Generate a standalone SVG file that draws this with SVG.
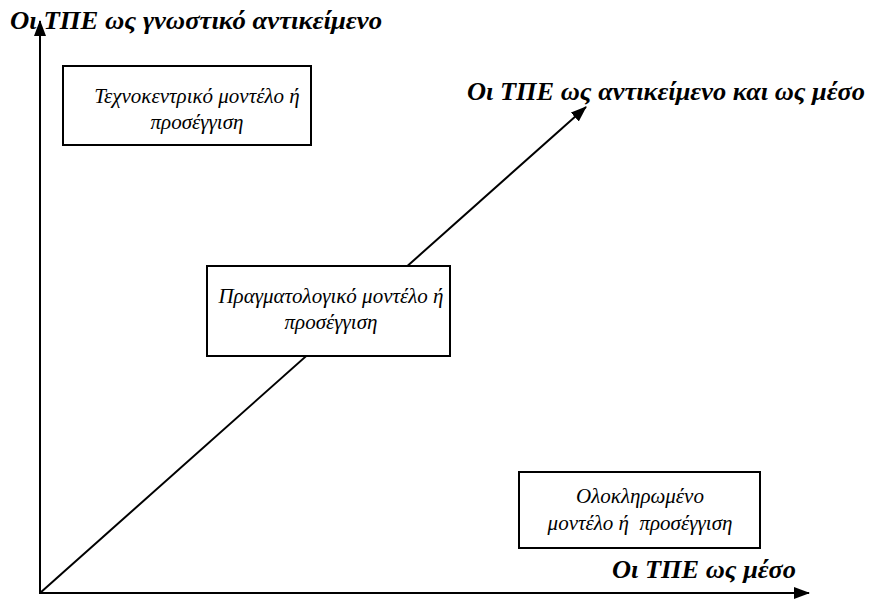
<svg xmlns="http://www.w3.org/2000/svg" width="873" height="600" viewBox="0 0 873 600">
<style>
.ax{stroke:#000;stroke-width:2;fill:none}
.box{fill:#fff;stroke:#000;stroke-width:2}
.lbl{font-family:"Liberation Serif","Times New Roman",serif;font-style:italic;font-weight:bold;font-size:25px;fill:#000}
.txt{font-family:"Liberation Serif","Times New Roman",serif;font-style:italic;font-size:21px;fill:#000;text-anchor:middle}
</style>
<defs>
<marker id="ah" markerWidth="16" markerHeight="12" refX="15" refY="6" orient="auto" markerUnits="userSpaceOnUse">
<path d="M0,0 L16,6 L0,12 Z" fill="#000"/>
</marker>
</defs>
<g id="connectors">
<line class="ax" x1="40" y1="594" x2="40" y2="21" marker-end="url(#ah)"/>
<line class="ax" x1="39" y1="593" x2="809" y2="593" marker-end="url(#ah)"/>
<line class="ax" x1="40" y1="593" x2="586" y2="107" marker-end="url(#ah)"/>
</g>
<g id="axis-labels">
<text class="lbl" x="10" y="29" textLength="372" lengthAdjust="spacingAndGlyphs">Οι ΤΠΕ ως γνωστικό αντικείμενο</text>
<text class="lbl" x="467" y="100" textLength="398" lengthAdjust="spacingAndGlyphs">Οι ΤΠΕ ως αντικείμενο και ως μέσο</text>
<text class="lbl" x="612" y="578" textLength="184" lengthAdjust="spacingAndGlyphs">Οι ΤΠΕ ως μέσο</text>
</g>
<g id="technocentric">
<rect class="box" x="63" y="66" width="248" height="79"/>
<text class="txt" x="197" y="103">Τεχνοκεντρικό μοντέλο ή</text>
<text class="txt" x="197" y="129">προσέγγιση</text>
</g>
<g id="pragmatological">
<rect class="box" x="207" y="266" width="243" height="90"/>
<text class="txt" x="331" y="303">Πραγματολογικό μοντέλο ή</text>
<text class="txt" x="331" y="329">προσέγγιση</text>
</g>
<g id="integrated">
<rect class="box" x="519" y="472" width="241" height="76"/>
<text class="txt" x="640" y="503">Ολοκληρωμένο</text>
<text class="txt" x="640" y="530" xml:space="preserve">μοντέλο ή  προσέγγιση</text>
</g>
</svg>
